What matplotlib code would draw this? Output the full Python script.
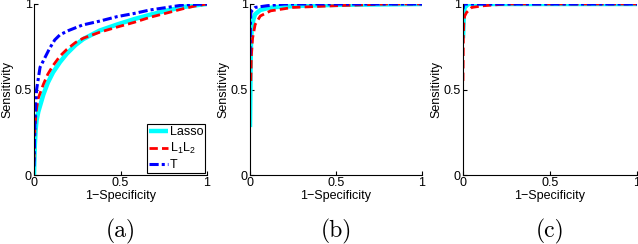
import matplotlib
matplotlib.use("Agg")
import matplotlib.pyplot as plt

# Panel (a)
a_lasso_x = [0.0, 0.005, 0.01, 0.015, 0.025, 0.054, 0.08, 0.11, 0.15, 0.19, 0.24, 0.285, 0.38, 0.48, 0.58, 0.67, 0.77, 0.86, 0.93, 1.0]
a_lasso_y = [0.0, 0.18, 0.27, 0.32, 0.37, 0.47, 0.54, 0.60, 0.66, 0.71, 0.76, 0.795, 0.845, 0.88, 0.912, 0.937, 0.962, 0.982, 0.992, 1.0]
a_l1l2_x = [0.0, 0.005, 0.01, 0.015, 0.025, 0.054, 0.08, 0.11, 0.15, 0.19, 0.24, 0.285, 0.38, 0.48, 0.58, 0.67, 0.77, 0.86, 0.93, 1.0]
a_l1l2_y = [0.08, 0.26, 0.34, 0.39, 0.45, 0.53, 0.59, 0.64, 0.695, 0.735, 0.775, 0.80, 0.835, 0.865, 0.893, 0.922, 0.948, 0.972, 0.988, 1.0]
a_t_x = [0.0, 0.005, 0.01, 0.015, 0.035, 0.06, 0.09, 0.12, 0.15, 0.2, 0.28, 0.38, 0.48, 0.58, 0.67, 0.77, 0.86, 0.93, 1.0]
a_t_y = [0.05, 0.3, 0.42, 0.5, 0.63, 0.68, 0.74, 0.79, 0.82, 0.845, 0.877, 0.9, 0.926, 0.945, 0.965, 0.98, 0.994, 0.998, 1.0]

# Panel (b)
b_lasso_x = [0.0, 0.003, 0.006, 0.01, 0.02, 0.03, 0.06, 0.1, 0.15, 0.3, 0.5, 1.0]
b_lasso_y = [0.28, 0.6, 0.78, 0.86, 0.91, 0.94, 0.965, 0.975, 0.982, 0.99, 0.995, 1.0]
b_l1l2_x = [0.005, 0.008, 0.015, 0.03, 0.06, 0.12, 0.25, 0.5, 0.8, 1.0]
b_l1l2_y = [0.55, 0.7, 0.8, 0.88, 0.93, 0.96, 0.98, 0.99, 1.0, 1.0]
b_t_x = [0.0, 0.003, 0.005, 0.01, 0.03, 0.1, 0.2, 1.0]
b_t_y = [0.7, 0.9, 0.95, 0.96, 0.98, 0.99, 1.0, 1.0]

# Panel (c)
c_lasso_x = [0.0, 0.005, 0.01, 0.03, 1.0]
c_lasso_y = [0.8, 0.95, 0.98, 1.0, 1.0]
c_l1l2_x = [0.0, 0.002, 0.005, 0.01, 0.02, 0.05, 0.12, 0.25, 1.0]
c_l1l2_y = [0.55, 0.8, 0.9, 0.93, 0.95, 0.98, 0.99, 1.0, 1.0]
c_t_x = [0.0, 0.005, 1.0]
c_t_y = [0.97, 1.0, 1.0]

panel_labels = ["(a)", "(b)", "(c)"]
ticks = [0, 0.5, 1]
tick_labels = ["0", "0.5", "1"]
legend_labels = ["Lasso", "L$_1$L$_2$", "T"]

plt.rcParams['font.family'] = ['Liberation Sans', 'DejaVu Sans']
plt.rcParams['mathtext.fontset'] = 'custom'
plt.rcParams['mathtext.rm'] = 'Liberation Sans'
plt.rcParams['mathtext.it'] = 'Liberation Sans'

fig = plt.figure(figsize=(6.38, 2.44), dpi=100)
W, H = 638, 244
boxes = [(34, 173), (250, 172), (463, 174)]
bottom = 1 - 175 / H
height = (175 - 4) / H

data = [
    (a_lasso_x, a_lasso_y, a_l1l2_x, a_l1l2_y, a_t_x, a_t_y),
    (b_lasso_x, b_lasso_y, b_l1l2_x, b_l1l2_y, b_t_x, b_t_y),
    (c_lasso_x, c_lasso_y, c_l1l2_x, c_l1l2_y, c_t_x, c_t_y),
]

for i, ((left, w), d) in enumerate(zip(boxes, data)):
    ax = fig.add_axes([left / W, bottom, w / W, height])
    lx, ly, rx, ry, tx, ty = d
    ax.plot(lx, ly, color='#00ffff', lw=3.2, solid_capstyle='butt', label=legend_labels[0])
    ax.plot(rx, ry, color='red', lw=2.0, ls=(0, (3, 1.5)), label=legend_labels[1])
    ax.plot(tx, ty, color='#0000ff', lw=2.2, ls=(0, (3, 1, 1, 1)), label=legend_labels[2])
    ax.set_xlim(0, 1)
    ax.set_ylim(0, 1)
    ax.set_xticks(ticks)
    ax.set_xticklabels(tick_labels)
    ax.set_yticks(ticks)
    ax.set_yticklabels(tick_labels)
    ax.tick_params(direction='in', length=3, labelsize=9, pad=1.5, width=0.8)
    for s in ['top', 'right']:
        ax.spines[s].set_visible(False)
    for s in ['left', 'bottom']:
        ax.spines[s].set_linewidth(0.8)
    ax.set_xlabel('1\u2212Specificity', fontsize=9, labelpad=1)
    ax.set_ylabel('Sensitivity', fontsize=9, labelpad=1)
    fig.text((left + w / 2) / W, 1 - 231 / H, panel_labels[i],
             fontsize=17, family=['cmr10', 'DejaVu Serif'], ha='center', va='center')
    if i == 0:
        leg = ax.legend(loc='lower right', fontsize=9, frameon=True, fancybox=False,
                        edgecolor='black', framealpha=1, handlelength=1.5,
                        handletextpad=0.15, borderpad=0.15, labelspacing=0.25,
                        borderaxespad=0.15)
        leg.get_frame().set_linewidth(0.8)

fig.savefig('out.png', dpi=100)
